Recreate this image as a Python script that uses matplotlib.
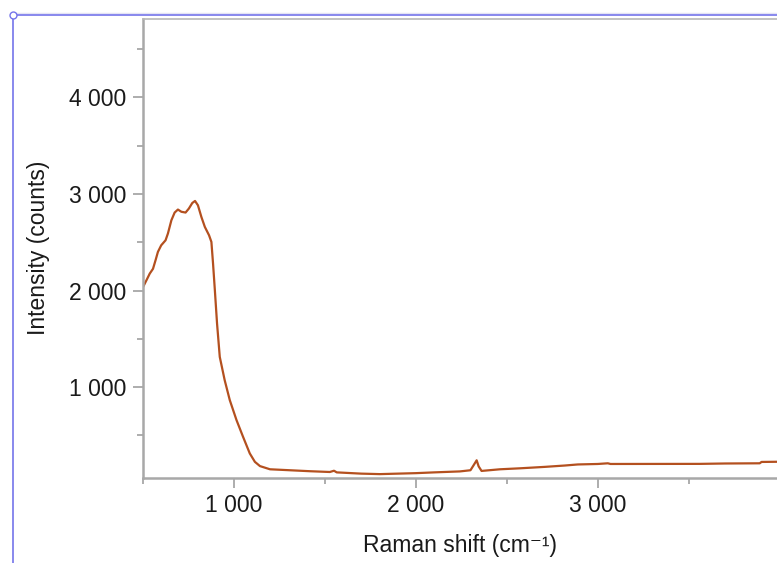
import matplotlib
matplotlib.use("Agg")
import matplotlib.pyplot as plt
from matplotlib.lines import Line2D
from matplotlib.ticker import MultipleLocator, FuncFormatter

# Raman spectrum
raman_shift = [500, 520, 537, 555, 570, 582, 600, 624, 637, 656, 674, 692, 711, 734,
               752, 771, 786, 802, 821, 840, 863, 876, 885, 895, 907, 922, 949, 977,
               1014, 1050, 1087, 1115, 1143, 1198, 1308, 1418, 1527, 1550, 1565, 1700,
               1802, 1900, 2000, 2100, 2242, 2300, 2320, 2334, 2345, 2361, 2462, 2571,
               2709, 2819, 2890, 3000, 3055, 3070, 3560, 3700, 3890, 3900, 3995]
intensity = [2035, 2110, 2175, 2225, 2320, 2400, 2468, 2520, 2590, 2727, 2807, 2838,
             2815, 2807, 2848, 2906, 2927, 2882, 2761, 2658, 2572, 2503, 2279, 2003,
             1659, 1313, 1072, 866, 659, 486, 314, 227, 183, 150, 140, 130, 122, 135,
             118, 105, 100, 105, 110, 118, 128, 140, 200, 243, 180, 133, 150, 160, 175,
             189, 200, 205, 212, 205, 206, 210, 212, 226, 228]

x_label = "Raman shift (cm\u207b\u00b9)"
y_label = "Intensity (counts)"

plt.rcParams['font.family'] = ['Liberation Sans', 'DejaVu Sans']

fig = plt.figure(figsize=(7.77, 5.63), dpi=100)
ax = fig.add_axes([143 / 777, 1 - 477.5 / 563, 634 / 777, 458.5 / 563])

ax.plot(raman_shift, intensity, color='#b4501f', linewidth=1.6)

# the plot runs on past the right edge of the picture
ax.set_xlim(500, 3985)
ax.set_ylim(65, 4810)

ax.xaxis.set_major_locator(MultipleLocator(1000))
ax.xaxis.set_minor_locator(MultipleLocator(500))
ax.yaxis.set_major_locator(MultipleLocator(1000))
ax.yaxis.set_minor_locator(MultipleLocator(500))
fmt = FuncFormatter(lambda v, p: f"{v:,.0f}".replace(",", " "))
ax.xaxis.set_major_formatter(fmt)
ax.yaxis.set_major_formatter(fmt)

ax.tick_params(which='major', length=7, width=1.2, color='#a0a0a0',
               labelsize=16.5, labelcolor='#1a1a1a', pad=5)
ax.tick_params(which='minor', length=4, width=1.2, color='#a0a0a0')

for side in ['left', 'bottom']:
    ax.spines[side].set_color('#a8a8a8')
    ax.spines[side].set_linewidth(1.8)
ax.spines['top'].set_color('#b8b8b8')
ax.spines['top'].set_linewidth(1.2)
ax.spines['right'].set_visible(False)

ax.set_xlabel(x_label, fontsize=16.5, color='#1a1a1a')
ax.set_ylabel(y_label, fontsize=16.5, color='#1a1a1a')
ax.xaxis.set_label_coords(0.5, -0.123)
ax.yaxis.set_label_coords(-0.146, 0.5)

# blue selection frame around the plot
fx = 13 / 777
fy = 1 - 15 / 563
fig.add_artist(Line2D([fx, 1], [fy + 2 / 563, fy + 2 / 563], color='#e4e4f4', linewidth=1))
fig.add_artist(Line2D([fx, 1], [fy, fy], color='#7474ea', linewidth=1.2))
fig.add_artist(Line2D([fx, fx], [0, fy], color='#7474ea', linewidth=1.2))
fig.add_artist(Line2D([fx], [fy], marker='o', markersize=5, markerfacecolor='white',
                      markeredgecolor='#7474ea', markeredgewidth=1))

fig.savefig("out.png", dpi=100)
